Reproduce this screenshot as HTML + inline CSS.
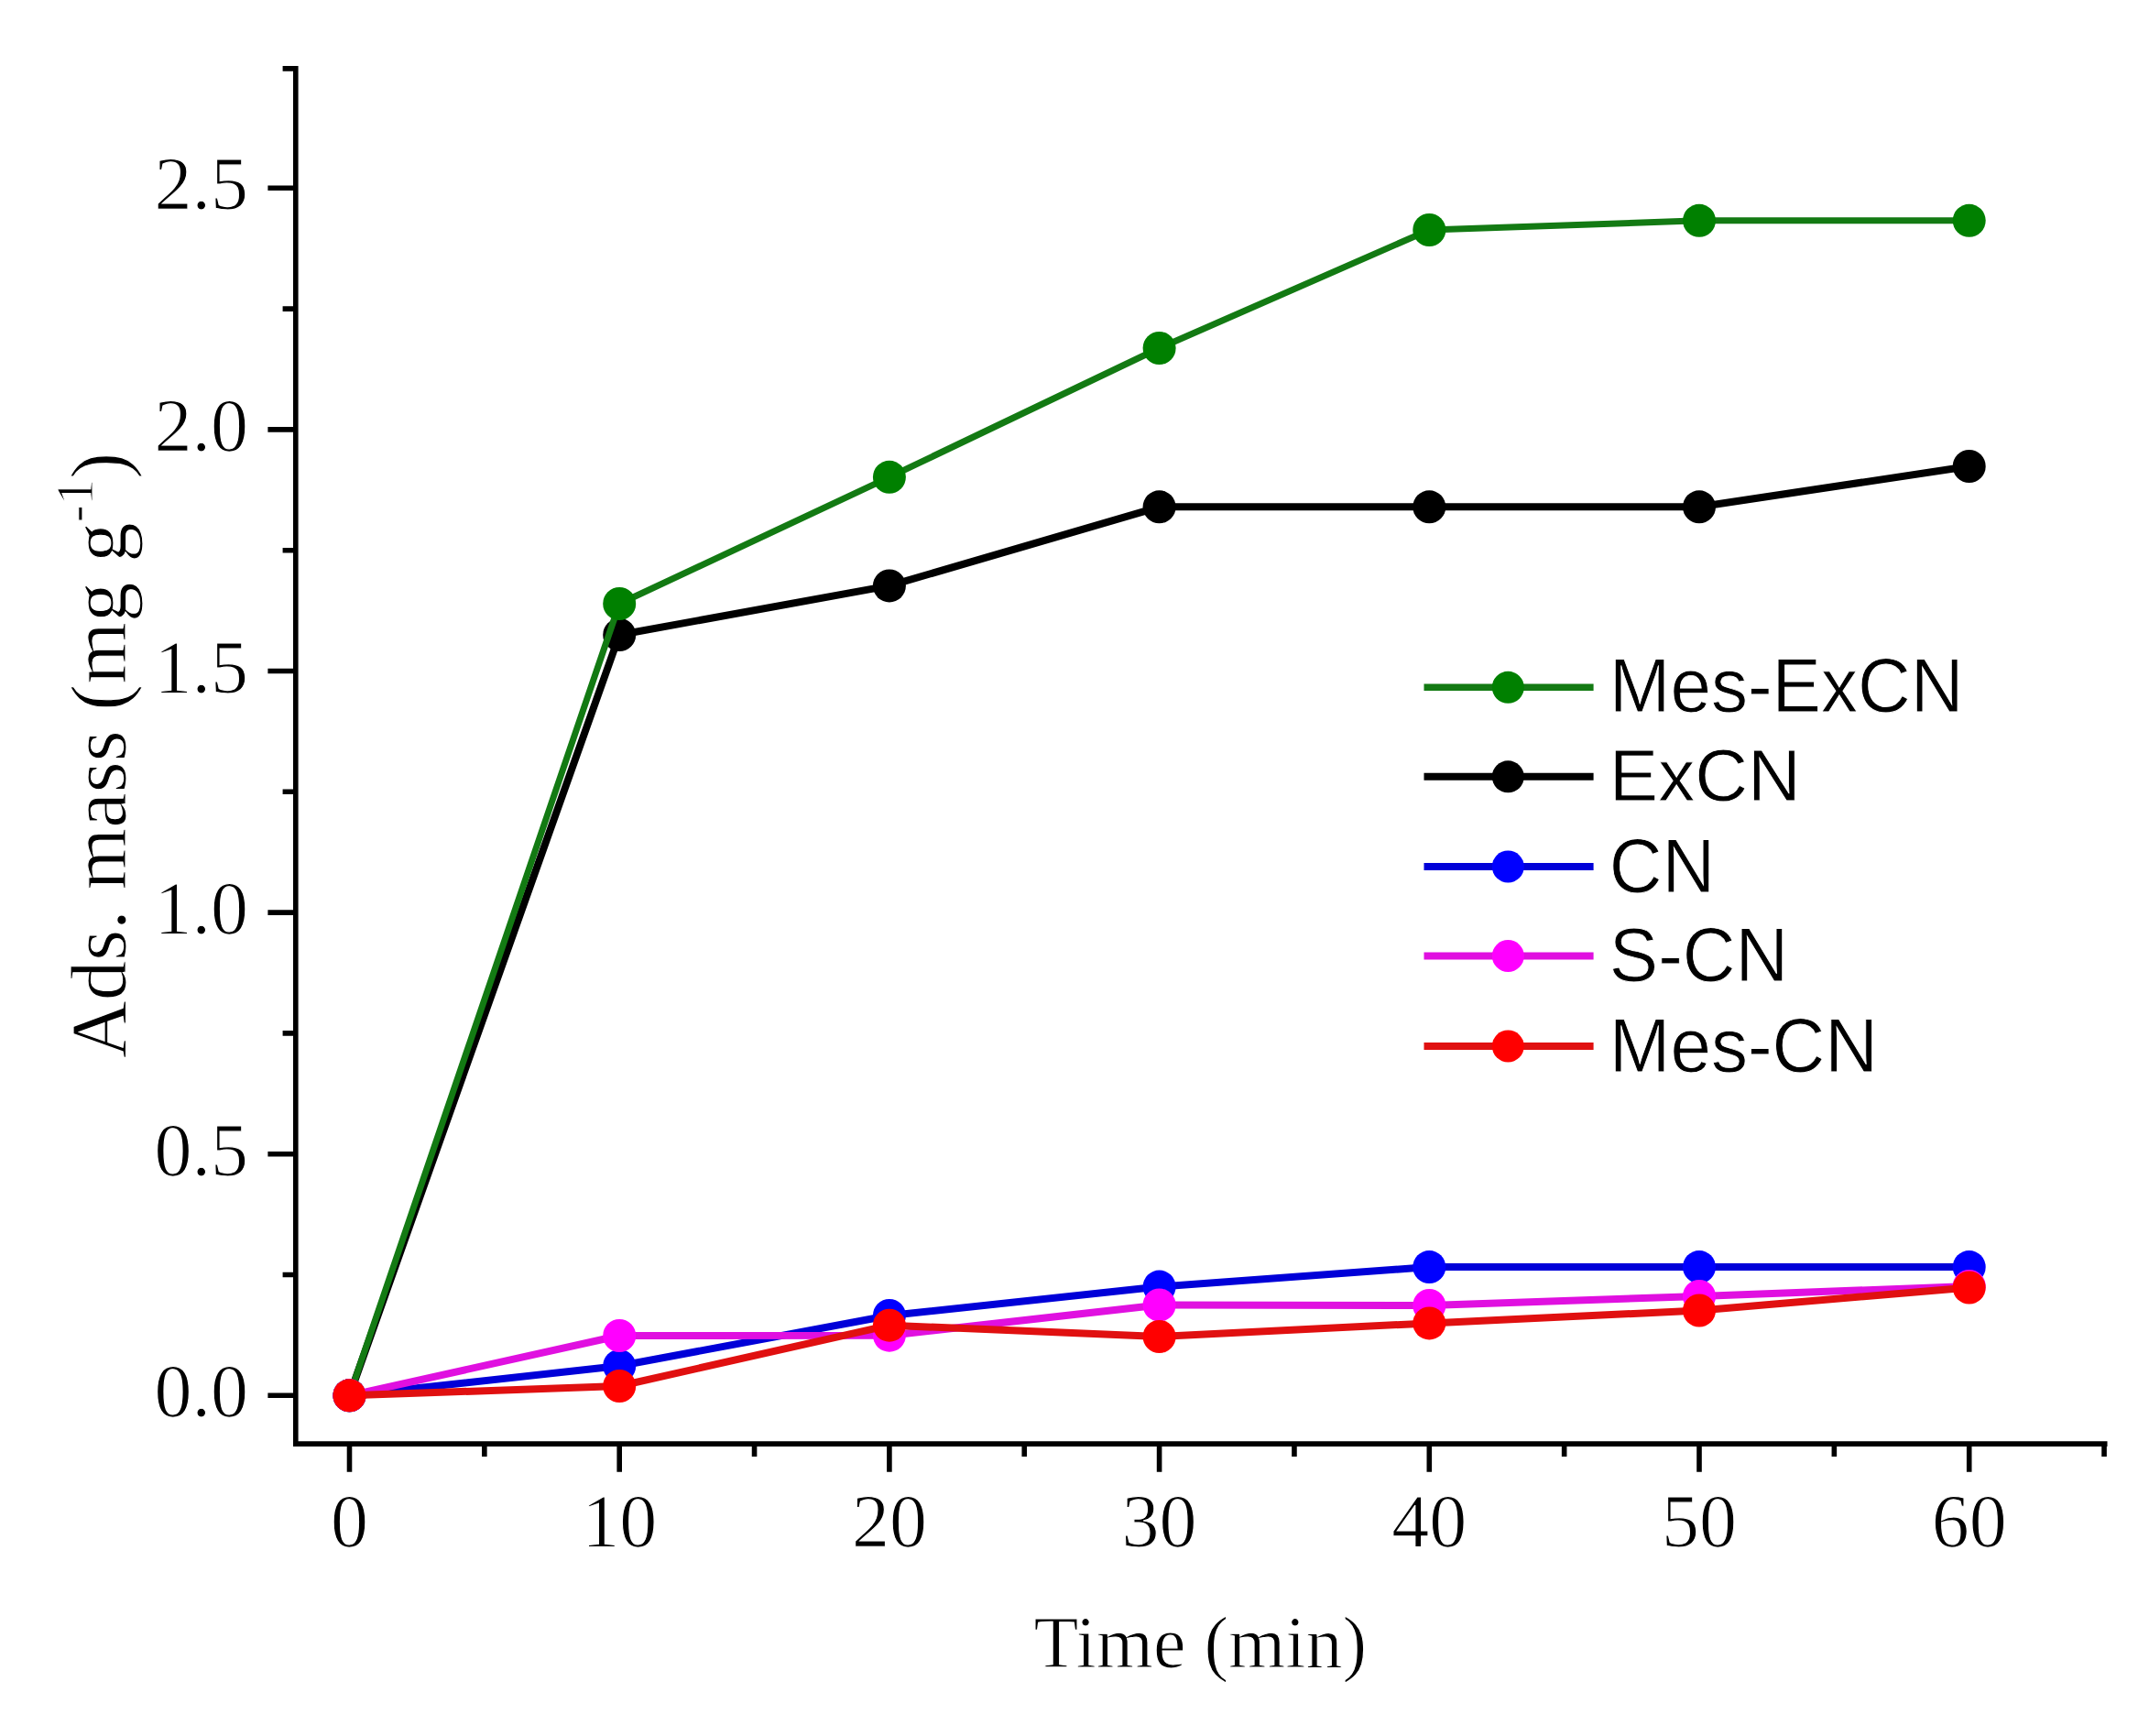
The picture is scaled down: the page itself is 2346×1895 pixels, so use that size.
<!DOCTYPE html>
<html><head><meta charset="utf-8"><title>Ads. mass vs Time</title>
<style>html,body{margin:0;padding:0;background:#fff;}body{width:2346px;height:1895px;overflow:hidden;}svg{display:block;}.serif{font-family:"Liberation Serif","Times New Roman",serif;stroke:#fff;stroke-width:1.1px;}.sans{font-family:"Liberation Sans",Arial,sans-serif;stroke:#fff;stroke-width:0.8px;}</style>
</head><body>
<svg width="2346" height="1895" viewBox="0 0 2346 1895">
<rect x="0" y="0" width="2346" height="1895" fill="#fff"/>
<path d="M322.80 72.10V1578.90 M320.00 1576.10H2300.50" stroke="#000" stroke-width="5.60" fill="none" stroke-linecap="butt"/>
<path d="M292.40 1523.30L320.00 1523.30 M292.40 1259.70L320.00 1259.70 M292.40 996.10L320.00 996.10 M292.40 732.50L320.00 732.50 M292.40 468.90L320.00 468.90 M292.40 205.30L320.00 205.30 M308.60 1391.50L320.00 1391.50 M308.60 1127.90L320.00 1127.90 M308.60 864.30L320.00 864.30 M308.60 600.70L320.00 600.70 M308.60 337.10L320.00 337.10 M308.60 74.90L320.00 74.90 M381.50 1578.90L381.50 1606.70 M676.20 1578.90L676.20 1606.70 M970.90 1578.90L970.90 1606.70 M1265.60 1578.90L1265.60 1606.70 M1560.30 1578.90L1560.30 1606.70 M1855.00 1578.90L1855.00 1606.70 M2149.70 1578.90L2149.70 1606.70 M528.85 1578.90L528.85 1590.00 M823.55 1578.90L823.55 1590.00 M1118.25 1578.90L1118.25 1590.00 M1412.95 1578.90L1412.95 1590.00 M1707.65 1578.90L1707.65 1590.00 M2002.35 1578.90L2002.35 1590.00 M2297.05 1578.90L2297.05 1590.00" stroke="#000" stroke-width="5.60" fill="none"/>
<text class="serif" x="271" y="1546.40" font-size="82" text-anchor="end" fill="#000">0.0</text>
<text class="serif" x="271" y="1282.80" font-size="82" text-anchor="end" fill="#000">0.5</text>
<text class="serif" x="271" y="1019.20" font-size="82" text-anchor="end" fill="#000">1.0</text>
<text class="serif" x="271" y="755.60" font-size="82" text-anchor="end" fill="#000">1.5</text>
<text class="serif" x="271" y="492.00" font-size="82" text-anchor="end" fill="#000">2.0</text>
<text class="serif" x="271" y="228.40" font-size="82" text-anchor="end" fill="#000">2.5</text>
<text class="serif" x="381.50" y="1687.8" font-size="82" text-anchor="middle" fill="#000">0</text>
<text class="serif" x="676.20" y="1687.8" font-size="82" text-anchor="middle" fill="#000">10</text>
<text class="serif" x="970.90" y="1687.8" font-size="82" text-anchor="middle" fill="#000">20</text>
<text class="serif" x="1265.60" y="1687.8" font-size="82" text-anchor="middle" fill="#000">30</text>
<text class="serif" x="1560.30" y="1687.8" font-size="82" text-anchor="middle" fill="#000">40</text>
<text class="serif" x="1855.00" y="1687.8" font-size="82" text-anchor="middle" fill="#000">50</text>
<text class="serif" x="2149.70" y="1687.8" font-size="82" text-anchor="middle" fill="#000">60</text>
<text class="serif" x="1128.4" y="1819.6" font-size="80" fill="#000">Time (min)</text>
<text class="serif" transform="translate(136.7 1155.2) rotate(-90)" x="0" y="0" font-size="87" fill="#000">Ads. mass (mg g<tspan font-size="57" dy="-36">-1</tspan><tspan dy="36">)</tspan></text>
<polyline points="381.50,1523.30 676.20,693.00 970.90,639.40 1265.60,553.30 1560.30,553.30 1855.00,553.30 2149.70,509.00" fill="none" stroke="#000000" stroke-width="8.0" stroke-linejoin="round"/>
<circle cx="381.50" cy="1523.30" r="18.0" fill="#000000"/>
<circle cx="676.20" cy="693.00" r="18.0" fill="#000000"/>
<circle cx="970.90" cy="639.40" r="18.0" fill="#000000"/>
<circle cx="1265.60" cy="553.30" r="18.0" fill="#000000"/>
<circle cx="1560.30" cy="553.30" r="18.0" fill="#000000"/>
<circle cx="1855.00" cy="553.30" r="18.0" fill="#000000"/>
<circle cx="2149.70" cy="509.00" r="18.0" fill="#000000"/>
<polyline points="381.50,1523.30 676.20,659.00 970.90,520.80 1265.60,380.00 1560.30,251.00 1855.00,240.80 2149.70,240.80" fill="none" stroke="#137a13" stroke-width="7.0" stroke-linejoin="round"/>
<circle cx="381.50" cy="1523.30" r="18.0" fill="#008000"/>
<circle cx="676.20" cy="659.00" r="18.0" fill="#008000"/>
<circle cx="970.90" cy="520.80" r="18.0" fill="#008000"/>
<circle cx="1265.60" cy="380.00" r="18.0" fill="#008000"/>
<circle cx="1560.30" cy="251.00" r="18.0" fill="#008000"/>
<circle cx="1855.00" cy="240.80" r="18.0" fill="#008000"/>
<circle cx="2149.70" cy="240.80" r="18.0" fill="#008000"/>
<polyline points="381.50,1523.30 676.20,1491.00 970.90,1436.00 1265.60,1404.60 1560.30,1383.10 1855.00,1383.10 2149.70,1383.10" fill="none" stroke="#0000d8" stroke-width="8.0" stroke-linejoin="round"/>
<circle cx="381.50" cy="1523.30" r="18.0" fill="#0000ff"/>
<circle cx="676.20" cy="1491.00" r="18.0" fill="#0000ff"/>
<circle cx="970.90" cy="1436.00" r="18.0" fill="#0000ff"/>
<circle cx="1265.60" cy="1404.60" r="18.0" fill="#0000ff"/>
<circle cx="1560.30" cy="1383.10" r="18.0" fill="#0000ff"/>
<circle cx="1855.00" cy="1383.10" r="18.0" fill="#0000ff"/>
<circle cx="2149.70" cy="1383.10" r="18.0" fill="#0000ff"/>
<polyline points="381.50,1523.30 676.20,1458.00 970.90,1457.70 1265.60,1424.50 1560.30,1425.00 1855.00,1415.00 2149.70,1404.00" fill="none" stroke="#e010e0" stroke-width="8.0" stroke-linejoin="round"/>
<circle cx="381.50" cy="1523.30" r="18.0" fill="#ff00ff"/>
<circle cx="676.20" cy="1458.00" r="18.0" fill="#ff00ff"/>
<circle cx="970.90" cy="1457.70" r="18.0" fill="#ff00ff"/>
<circle cx="1265.60" cy="1424.50" r="18.0" fill="#ff00ff"/>
<circle cx="1560.30" cy="1425.00" r="18.0" fill="#ff00ff"/>
<circle cx="1855.00" cy="1415.00" r="18.0" fill="#ff00ff"/>
<circle cx="2149.70" cy="1404.00" r="18.0" fill="#ff00ff"/>
<polyline points="381.50,1523.30 676.20,1513.00 970.90,1446.70 1265.60,1459.00 1560.30,1444.40 1855.00,1430.50 2149.70,1405.50" fill="none" stroke="#e01010" stroke-width="8.0" stroke-linejoin="round"/>
<circle cx="381.50" cy="1523.30" r="18.0" fill="#ff0000"/>
<circle cx="676.20" cy="1513.00" r="18.0" fill="#ff0000"/>
<circle cx="970.90" cy="1446.70" r="18.0" fill="#ff0000"/>
<circle cx="1265.60" cy="1459.00" r="18.0" fill="#ff0000"/>
<circle cx="1560.30" cy="1444.40" r="18.0" fill="#ff0000"/>
<circle cx="1855.00" cy="1430.50" r="18.0" fill="#ff0000"/>
<circle cx="2149.70" cy="1405.50" r="18.0" fill="#ff0000"/>
<line x1="1554.5" y1="750.30" x2="1739.6" y2="750.30" stroke="#137a13" stroke-width="7.5"/>
<circle cx="1646.3" cy="750.30" r="17.5" fill="#008000"/>
<text class="sans" transform="translate(1756.8 776.60) scale(1 1.052)" x="0" y="0" font-size="80" fill="#000">Mes-ExCN</text>
<line x1="1554.5" y1="847.80" x2="1739.6" y2="847.80" stroke="#000000" stroke-width="8.0"/>
<circle cx="1646.3" cy="847.80" r="17.5" fill="#000000"/>
<text class="sans" transform="translate(1756.8 873.90) scale(1 1.000)" x="0" y="0" font-size="80" fill="#000">ExCN</text>
<line x1="1554.5" y1="946.00" x2="1739.6" y2="946.00" stroke="#0000d8" stroke-width="8.0"/>
<circle cx="1646.3" cy="946.00" r="17.5" fill="#0000ff"/>
<text class="sans" transform="translate(1756.8 973.90) scale(1 1.052)" x="0" y="0" font-size="80" fill="#000">CN</text>
<line x1="1554.5" y1="1043.50" x2="1739.6" y2="1043.50" stroke="#e010e0" stroke-width="8.0"/>
<circle cx="1646.3" cy="1043.50" r="17.5" fill="#ff00ff"/>
<text class="sans" transform="translate(1756.8 1070.70) scale(1 1.035)" x="0" y="0" font-size="80" fill="#000">S-CN</text>
<line x1="1554.5" y1="1142.00" x2="1739.6" y2="1142.00" stroke="#e01010" stroke-width="8.0"/>
<circle cx="1646.3" cy="1142.00" r="17.5" fill="#ff0000"/>
<text class="sans" transform="translate(1756.8 1170.20) scale(1 1.035)" x="0" y="0" font-size="80" fill="#000">Mes-CN</text>
</svg>
</body></html>
